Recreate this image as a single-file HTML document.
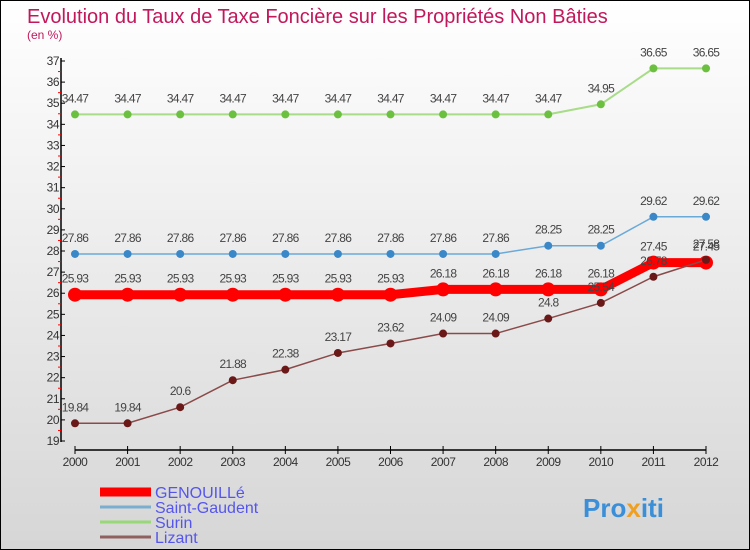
<!DOCTYPE html>
<html><head><meta charset="utf-8">
<style>
body{margin:0}
#c{width:750px;height:550px;position:relative;font-family:"Liberation Sans",sans-serif}
svg{position:absolute;left:0;top:0}
</style></head><body>
<div id="c">
<svg id="s" width="750" height="550" xmlns="http://www.w3.org/2000/svg">
<defs><linearGradient id="bg" x1="0" y1="0" x2="0" y2="1"><stop offset="0" stop-color="#ffffff"/><stop offset="1" stop-color="#d6d6d6"/></linearGradient></defs>
<rect x="0.5" y="0.5" width="749" height="549" fill="url(#bg)" stroke="#000"/>
<text x="27" y="23" font-size="20" fill="#c2185b">Evolution du Taux de Taxe Foncière sur les Propriétés Non Bâties</text>
<text x="27" y="39" font-size="12" fill="#c2185b">(en %)</text>
<g id="axes"></g><g id="series"></g>
<text x="583" y="517" font-size="26" font-weight="bold" fill="#3a8fd8">Pro<tspan fill="#f0a020">x</tspan><tspan fill="#3a8fd8">iti</tspan></text>
</svg></div>
<script>
const years=[2000,2001,2002,2003,2004,2005,2006,2007,2008,2009,2010,2011,2012];
const genouille=[25.93,25.93,25.93,25.93,25.93,25.93,25.93,26.18,26.18,26.18,26.18,27.45,27.45];
const saintGaudent=[27.86,27.86,27.86,27.86,27.86,27.86,27.86,27.86,27.86,28.25,28.25,29.62,29.62];
const surin=[34.47,34.47,34.47,34.47,34.47,34.47,34.47,34.47,34.47,34.47,34.95,36.65,36.65];
const lizant=[19.84,19.84,20.6,21.88,22.38,23.17,23.62,24.09,24.09,24.8,25.54,26.78,27.58];
const yTicks=[19,20,21,22,23,24,25,26,27,28,29,30,31,32,33,34,35,36,37];
const NS="http://www.w3.org/2000/svg";
const X=i=>75+i*(706-75)/12, Y=v=>441-(v-19)*(380/18);
function mk(t,a,p){const e=document.createElementNS(NS,t);for(const k in a)e.setAttribute(k,a[k]);p.appendChild(e);return e;}
const ax=document.getElementById('axes'), sg=document.getElementById('series');
let l=mk('line',{x1:61,y1:58,x2:61,y2:442,stroke:'#000','stroke-width':1.5},ax);


l=mk('line',{x1:75,y1:450,x2:706,y2:450,stroke:'#000','stroke-width':1.5},ax);


yTicks.forEach(v=>{
 let t=mk('line',{x1:61,y1:Y(v),x2:65,y2:Y(v),stroke:'#000'},ax);
 
 
 if(v<37){let m=mk('line',{x1:58,y1:Y(v+0.5),x2:61,y2:Y(v+0.5),stroke:'#f00'},ax);
 
 }
 let tx=mk('text',{x:59,y:Y(v)+4,'font-size':12,fill:'#333','text-anchor':'end','letter-spacing':'-0.5'},ax);
 tx.textContent=v;
 
 
});
years.forEach((yr,i)=>{
 let t=mk('line',{x1:X(i),y1:446,x2:X(i),y2:454,stroke:'#000'},ax);
 
 
 let tx=mk('text',{x:X(i),y:466,'font-size':12,fill:'#333','text-anchor':'middle','letter-spacing':'-0.5'},ax);
 tx.textContent=yr;
 
 
});
const series=[
 {n:'surin',d:surin,c:'#a8dc88',dc:'#6cc040',w:2,r:4},
 {n:'saint-gaudent',d:saintGaudent,c:'#6aaad8',dc:'#3a88c8',w:1.5,r:4},
 {n:'genouille',d:genouille,c:'#f00',dc:'#f00',w:9,r:7},
 {n:'lizant',d:lizant,c:'#8a4a4a',dc:'#6a1818',w:1.5,r:4}];
series.forEach(s=>{
 let p=mk('polyline',{points:s.d.map((v,i)=>X(i)+','+Y(v)).join(' '),fill:'none',stroke:s.c,'stroke-width':s.w},sg);
 
 
 s.d.forEach((v,i)=>{
  let c=mk('circle',{cx:X(i),cy:Y(v),r:s.r,fill:s.dc},sg);
  
  
  let t=mk('text',{x:X(i),y:Y(v)-12,'font-size':12,fill:'#444','text-anchor':'middle','letter-spacing':'-0.7'},sg);
  t.textContent=String(v);
  
  
 });
});
const leg=[['GENOUILLé','#f00',9],['Saint-Gaudent','#7aaed0',3],['Surin','#98d878',3],['Lizant','#906060',3]];
leg.forEach((e,i)=>{
 const y=492+i*15;
 let l=mk('line',{x1:100,y1:y,x2:151,y2:y,stroke:e[1],'stroke-width':e[2]},sg);
 
 
 let t=mk('text',{x:155,y:y+6,'font-size':16,fill:'#5555ee'},sg);
 t.textContent=e[0];
 
 
});
</script>
</body></html>
